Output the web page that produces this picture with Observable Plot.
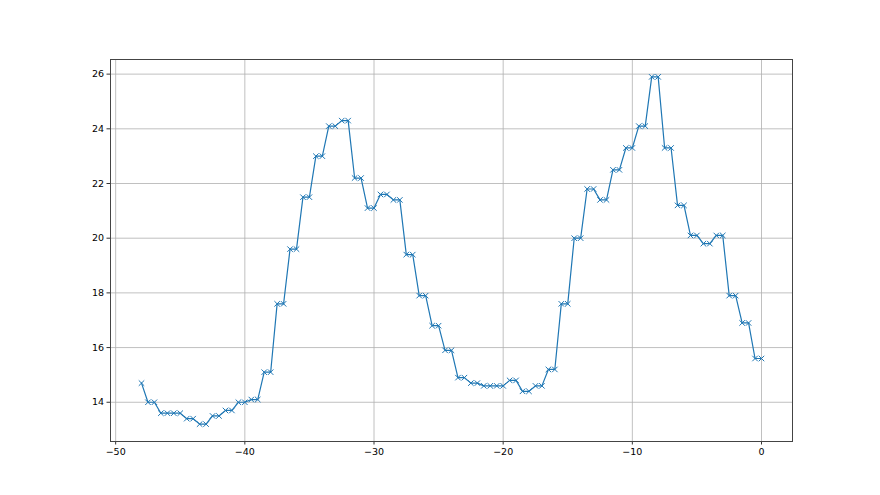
<!DOCTYPE html>
<html>
<head>
<meta charset="utf-8">
<script src="https://cdn.jsdelivr.net/npm/d3@7"></script>
<script src="https://cdn.jsdelivr.net/npm/@observablehq/plot@0.6"></script>
<style>
  html, body { margin: 0; padding: 0; background: #fff; }
  #chart svg { display: block; }
</style>
</head>
<body>
<div id="chart"></div>
<script>
const xValues = [
  -48, -47.5, -47, -46.5, -46, -45.5, -45, -44.5, -44, -43.5, -43, -42.5, -42,
  -41.5, -41, -40.5, -40, -39.5, -39, -38.5, -38, -37.5, -37, -36.5, -36,
  -35.5, -35, -34.5, -34, -33.5, -33, -32.5, -32, -31.5, -31, -30.5, -30,
  -29.5, -29, -28.5, -28, -27.5, -27, -26.5, -26, -25.5, -25, -24.5, -24,
  -23.5, -23, -22.5, -22, -21.5, -21, -20.5, -20, -19.5, -19, -18.5, -18,
  -17.5, -17, -16.5, -16, -15.5, -15, -14.5, -14, -13.5, -13, -12.5, -12,
  -11.5, -11, -10.5, -10, -9.5, -9, -8.5, -8, -7.5, -7, -6.5, -6,
  -5.5, -5, -4.5, -4, -3.5, -3, -2.5, -2, -1.5, -1, -0.5, 0
];
const yValues = [
  14.7, 14.0, 14.0, 13.6, 13.6, 13.6, 13.6, 13.4, 13.4, 13.2, 13.2, 13.5, 13.5,
  13.7, 13.7, 14.0, 14.0, 14.1, 14.1, 15.1, 15.1, 17.6, 17.6, 19.6, 19.6,
  21.5, 21.5, 23.0, 23.0, 24.1, 24.1, 24.3, 24.3, 22.2, 22.2, 21.1, 21.1,
  21.6, 21.6, 21.4, 21.4, 19.4, 19.4, 17.9, 17.9, 16.8, 16.8, 15.9, 15.9,
  14.9, 14.9, 14.7, 14.7, 14.6, 14.6, 14.6, 14.6, 14.8, 14.8, 14.4, 14.4,
  14.6, 14.6, 15.2, 15.2, 17.6, 17.6, 20.0, 20.0, 21.8, 21.8, 21.4, 21.4,
  22.5, 22.5, 23.3, 23.3, 24.1, 24.1, 25.9, 25.9, 23.3, 23.3, 21.2, 21.2,
  20.1, 20.1, 19.8, 19.8, 20.1, 20.1, 17.9, 17.9, 16.9, 16.9, 15.6, 15.6
];
const xTicks = [-50, -40, -30, -20, -10, 0];
const yTicks = [14, 16, 18, 20, 22, 24, 26];

const data = xValues.map((x, i) => ({x, y: yValues[i]}));
const fmt = d => String(d).replace("-", "\u2212");

const chart = Plot.plot({
  width: 880,
  height: 495,
  marginLeft: 110,
  marginRight: 88,
  marginTop: 59,
  marginBottom: 54,
  style: {fontFamily: "DejaVu Sans", fontSize: "9.5px", color: "#000", background: "#fff"},
  x: {domain: [-50.4, 2.4], ticks: xTicks, tickFormat: fmt, label: null, tickSize: 3.5, tickPadding: 3},
  y: {domain: [12.565, 26.535], ticks: yTicks, tickFormat: fmt, label: null, tickSize: 3.5, tickPadding: 3},
  marks: [
    Plot.gridX(xTicks, {stroke: "#b0b0b0", strokeOpacity: 1, strokeWidth: 0.8}),
    Plot.gridY(yTicks, {stroke: "#b0b0b0", strokeOpacity: 1, strokeWidth: 0.8}),
    Plot.axisX({ticks: xTicks, tickFormat: fmt, tickSize: 3.5, tickPadding: 3, stroke: "#333", label: null}),
    Plot.axisY({ticks: yTicks, tickFormat: fmt, tickSize: 3.5, tickPadding: 3, stroke: "#333", label: null}),
    Plot.line(data, {x: "x", y: "y", stroke: "#1f77b4", strokeWidth: 1.2}),
    Plot.dot(data, {x: "x", y: "y", symbol: "times", r: 2.6, stroke: "#1f77b4", strokeWidth: 1}),
    Plot.frame({stroke: "#444", strokeWidth: 1})
  ]
});
document.getElementById("chart").appendChild(chart);
</script>
</body>
</html>
